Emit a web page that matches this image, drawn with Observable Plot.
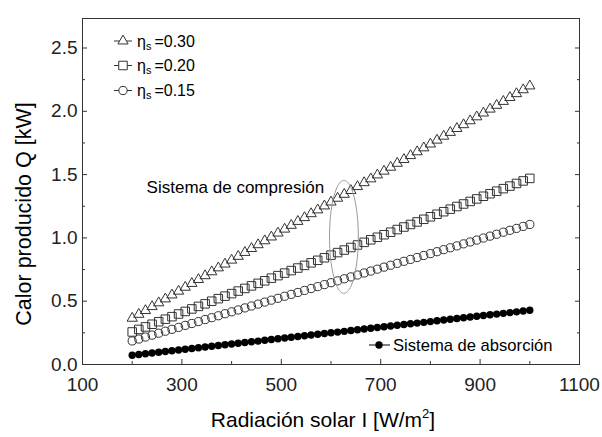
<!DOCTYPE html>
<html>
<head>
<meta charset="utf-8">
<script src="https://cdn.jsdelivr.net/npm/d3@7"></script>
<script src="https://cdn.jsdelivr.net/npm/@observablehq/plot@0.6"></script>
<style>
  html, body { margin: 0; padding: 0; background: #fff; }
  #chart svg { display: block; }
</style>
</head>
<body>
<div id="chart"></div>
<script>
// ---- data ----
const irradiance = [200,213.3,226.7,240,253.3,266.7,280,293.3,306.7,320,333.3,346.7,360,373.3,386.7,400,413.3,426.7,440,453.3,466.7,480,493.3,506.7,520,533.3,546.7,560,573.3,586.7,600,613.3,626.7,640,653.3,666.7,680,693.3,706.7,720,733.3,746.7,760,773.3,786.7,800,813.3,826.7,840,853.3,866.7,880,893.3,906.7,920,933.3,946.7,960,973.3,986.7,1000];
const q030 = [0.365,0.396,0.426,0.457,0.487,0.518,0.549,0.579,0.610,0.640,0.671,0.701,0.732,0.763,0.793,0.824,0.854,0.885,0.916,0.946,0.977,1.007,1.038,1.069,1.099,1.130,1.160,1.191,1.221,1.252,1.283,1.313,1.344,1.374,1.405,1.436,1.466,1.497,1.527,1.558,1.589,1.619,1.650,1.680,1.711,1.741,1.772,1.803,1.833,1.864,1.894,1.925,1.956,1.986,2.017,2.047,2.078,2.109,2.139,2.170,2.200];
const q020 = [0.257,0.277,0.297,0.318,0.338,0.358,0.378,0.399,0.419,0.439,0.459,0.479,0.500,0.520,0.540,0.560,0.580,0.601,0.621,0.641,0.661,0.682,0.702,0.722,0.742,0.762,0.783,0.803,0.823,0.843,0.864,0.884,0.904,0.924,0.944,0.965,0.985,1.005,1.025,1.045,1.066,1.086,1.106,1.126,1.147,1.167,1.187,1.207,1.227,1.248,1.268,1.288,1.308,1.329,1.349,1.369,1.389,1.409,1.430,1.450,1.470];
const q015 = [0.186,0.201,0.217,0.232,0.247,0.263,0.278,0.293,0.309,0.324,0.339,0.355,0.370,0.385,0.401,0.416,0.431,0.447,0.462,0.477,0.493,0.508,0.523,0.539,0.554,0.569,0.585,0.600,0.615,0.631,0.646,0.661,0.677,0.692,0.707,0.723,0.738,0.753,0.769,0.784,0.799,0.815,0.830,0.845,0.861,0.876,0.891,0.907,0.922,0.937,0.953,0.968,0.983,0.999,1.014,1.029,1.045,1.060,1.075,1.091,1.106];
const qAbs = [0.073,0.079,0.085,0.091,0.097,0.103,0.109,0.114,0.120,0.126,0.132,0.138,0.144,0.150,0.156,0.162,0.168,0.174,0.180,0.185,0.191,0.197,0.203,0.209,0.215,0.221,0.227,0.233,0.239,0.245,0.251,0.256,0.262,0.268,0.274,0.280,0.286,0.292,0.298,0.304,0.310,0.316,0.322,0.327,0.333,0.339,0.345,0.351,0.357,0.363,0.369,0.375,0.381,0.387,0.393,0.398,0.404,0.410,0.416,0.422,0.428];
const seriesLabels = ["=0.30", "=0.20", "=0.15"];
const absLabel = "Sistema de absorción";
const groupLabel = "Sistema de compresión";
const xTicks = [100,300,500,700,900,1100];
const xMinor = [200,400,600,800,1000];
const yTicks = [0,0.5,1.0,1.5,2.0,2.5];
const yMinor = [0.25,0.75,1.25,1.75,2.25];
const xTitle = "Radiación solar I [W/m";
const yTitle = "Calor producido Q [kW]";

// ---- build table ----
const rows = irradiance.map((I, i) => ({I, q30: q030[i], q20: q020[i], q15: q015[i], qa: qAbs[i]}));

// ellipse annotation (data units)
const ell = {cx: 626, cy: 1.008, rx: 29, ry: 0.446};
const ellPts = d3.range(0, 361, 4).map(a => ({
  x: ell.cx + ell.rx * Math.cos(a * Math.PI / 180),
  y: ell.cy + ell.ry * Math.sin(a * Math.PI / 180)
}));

const FONT = "'Liberation Sans', Arial, Helvetica, sans-serif";
const INK = "#222";

const plot = Plot.plot({
  width: 602,
  height: 437,
  marginLeft: 82,
  marginRight: 23,
  marginTop: 18,
  marginBottom: 73,
  style: {fontFamily: FONT, background: "#fff", color: INK},
  x: {domain: [100, 1100], label: null},
  y: {domain: [0, 2.733], label: null},
  marks: [
    Plot.axisX(xTicks, {anchor: "bottom", tickSize: 0, tickPadding: 13, fontSize: 19, tickFormat: d => String(d), label: null}),
    Plot.axisY(yTicks, {anchor: "left", tickSize: 0, tickPadding: 5, fontSize: 19, tickFormat: d => d.toFixed(1), label: null}),
    Plot.axisX(xTicks, {anchor: "bottom", tickSize: -5, tickFormat: () => "", label: null, stroke: "#333"}),
    Plot.axisX(xMinor, {anchor: "bottom", tickSize: -3, tickFormat: () => "", label: null, stroke: "#333"}),
    Plot.axisY(yTicks, {anchor: "left", tickSize: -5, tickFormat: () => "", label: null, stroke: "#333"}),
    Plot.axisY(yMinor, {anchor: "left", tickSize: -3, tickFormat: () => "", label: null, stroke: "#333"}),
    Plot.axisY(yTicks, {anchor: "right", tickSize: -5, tickFormat: () => "", label: null, stroke: "#333"}),
    Plot.axisY(yMinor, {anchor: "right", tickSize: -3, tickFormat: () => "", label: null, stroke: "#333"}),
    Plot.frame({stroke: "#333", strokeWidth: 1}),
    Plot.dot(rows, {x: "I", y: "q30", symbol: "triangle", r: 3.8, stroke: "#333", fill: "none", strokeWidth: 1}),
    Plot.dot(rows, {x: "I", y: "q20", symbol: "square", r: 4.8, stroke: "#333", fill: "none", strokeWidth: 1}),
    Plot.dot(rows, {x: "I", y: "q15", symbol: "circle", r: 4.1, stroke: "#333", fill: "none", strokeWidth: 1}),
    Plot.dot(rows, {x: "I", y: "qa", symbol: "circle", r: 3.7, fill: "#000", stroke: "none"}),
    Plot.line(ellPts, {x: "x", y: "y", stroke: "#999", strokeWidth: 1}),
    Plot.text([groupLabel], {x: 229, y: 1.40, text: d => d, textAnchor: "start", fontSize: 17, fill: "#000"})
  ]
});

document.getElementById("chart").appendChild(plot);

// ---- titles & legends (layout in pixels) ----
const svg = d3.select(plot);

const xt = svg.append("text")
  .attr("x", 323).attr("y", 427)
  .attr("text-anchor", "middle")
  .attr("font-family", FONT).attr("font-size", 21).attr("fill", "#000");
xt.append("tspan").text(xTitle);
xt.append("tspan").attr("font-size", 13).attr("dy", -9).text("2");
xt.append("tspan").attr("dy", 9).text("]");

svg.append("text")
  .attr("transform", "translate(24,214) rotate(-90)")
  .attr("text-anchor", "middle")
  .attr("dominant-baseline", "central")
  .attr("font-family", FONT).attr("font-size", 21.5).attr("fill", "#000")
  .text(yTitle);

// top-left legend
const symbols = [d3.symbolTriangle, d3.symbolSquare, d3.symbolCircle];
const symSizes = [Math.PI * 3.8 * 3.8, Math.PI * 4.8 * 4.8, Math.PI * 4.1 * 4.1];
const rowY = [41, 65.5, 90.5];
seriesLabels.forEach((lab, i) => {
  const g = svg.append("g").attr("transform", `translate(0,${rowY[i]})`);
  g.append("line").attr("x1", 114).attr("x2", 132).attr("y1", 0).attr("y2", 0).attr("stroke", "#333");
  g.append("path").attr("transform", "translate(123,0)")
    .attr("d", d3.symbol(symbols[i], symSizes[i])())
    .attr("fill", "#fff").attr("stroke", "#333");
  const t = g.append("text").attr("x", 137).attr("y", 5.5)
    .attr("text-anchor", "start")
    .attr("font-family", FONT).attr("font-size", 16).attr("fill", "#000");
  t.append("tspan").text("η");
  t.append("tspan").attr("font-size", 11).attr("dy", 3).text("s");
  t.append("tspan").attr("dy", -3).attr("dx", 3).text(lab);
});

// absorption legend
const ga = svg.append("g").attr("transform", "translate(0,345)");
ga.append("line").attr("x1", 369).attr("x2", 390).attr("y1", 0).attr("y2", 0).attr("stroke", "#000");
ga.append("circle").attr("cx", 379).attr("cy", 0).attr("r", 3.7).attr("fill", "#000");
ga.append("text").attr("x", 393).attr("y", 6)
  .attr("text-anchor", "start")
  .attr("font-family", FONT).attr("font-size", 16.6).attr("fill", "#000")
  .text(absLabel);
</script>
</body>
</html>
